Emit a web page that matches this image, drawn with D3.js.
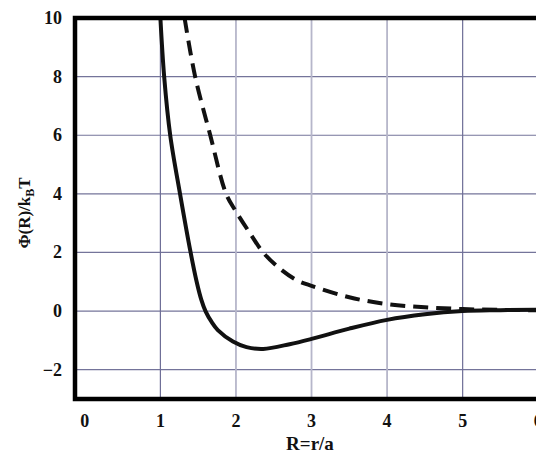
<!DOCTYPE html>
<html>
<head>
<meta charset="utf-8">
<script src="https://cdn.jsdelivr.net/npm/d3@7"></script>
<style>
  body { margin: 0; background: #fff; }
  text { font-family: "Liberation Serif", "Times New Roman", serif; font-weight: bold; fill: #111; }
</style>
</head>
<body>
<div id="chart"></div>
<script>
// potential curves
var solidR   = [1.0, 1.05, 1.13, 1.26, 1.40, 1.48, 1.54, 1.60, 1.68, 1.76, 1.96, 2.14, 2.36, 2.71, 3.0, 3.5, 4.0, 4.5, 5.0, 5.5, 6.0, 6.5];
var solidPhi = [10, 8, 6, 4, 2, 1.0, 0.4, -0.02, -0.38, -0.65, -1.04, -1.23, -1.29, -1.13, -0.95, -0.6, -0.3, -0.11, 0.0, 0.03, 0.05, 0.05];
var dashR    = [1.32, 1.46, 1.66, 1.87, 2.0, 2.2, 2.36, 2.58, 2.8, 3.0, 3.5, 4.0, 4.5, 5.0, 5.5, 6.0, 6.5];
var dashPhi  = [10, 8, 6, 4, 3.4, 2.6, 2.0, 1.45, 1.06, 0.86, 0.47, 0.24, 0.13, 0.07, 0.04, 0.03, 0.03];
var xTicks = [0, 1, 2, 3, 4, 5, 6];
var yTicks = [-2, 0, 2, 4, 6, 8, 10];
var lightX = [2, 3, 4];   // vertical grid lines that print paler

var W = 536, H = 455;
var svg = d3.select("#chart").append("svg")
    .attr("width", W)
    .attr("height", H);

var x = d3.scaleLinear().domain([-0.13, 6.5]).range([75, 576]);
var y = d3.scaleLinear().domain([-3, 10]).range([399, 18]);

svg.append("defs").append("clipPath").attr("id", "clip")
  .append("rect")
    .attr("x", 75).attr("y", 18)
    .attr("width", 576 - 75).attr("height", 399 - 18);

// grid
svg.append("g").selectAll("line")
    .data(yTicks.filter((d) => d < 10))
    .enter().append("line")
    .attr("x1", 75).attr("x2", 576)
    .attr("y1", (d) => y(d)).attr("y2", (d) => y(d))
    .attr("stroke", "#74749a").attr("stroke-width", 1.2);
svg.append("g").selectAll("line")
    .data(xTicks.filter((d) => d > 0))
    .enter().append("line")
    .attr("x1", (d) => x(d)).attr("x2", (d) => x(d))
    .attr("y1", 18).attr("y2", 399)
    .attr("stroke", (d) => lightX.includes(d) ? "#b6b6ca" : "#6e6e96")
    .attr("stroke-width", (d) => lightX.includes(d) ? 1.8 : 1.2);

var line = d3.line()
    .x((d) => x(d[0]))
    .y((d) => y(d[1]))
    .curve(d3.curveCatmullRom.alpha(0.5));

var curves = svg.append("g").attr("clip-path", "url(#clip)");
curves.append("path")
    .datum(d3.zip(dashR, dashPhi))
    .attr("d", line)
    .attr("fill", "none")
    .attr("stroke", "#111")
    .attr("stroke-width", 4)
    .attr("stroke-dasharray", "15,8");
curves.append("path")
    .datum(d3.zip(solidR, solidPhi))
    .attr("d", line)
    .attr("fill", "none")
    .attr("stroke", "#111")
    .attr("stroke-width", 4);

// frame
svg.append("rect")
    .attr("x", 75).attr("y", 18)
    .attr("width", 576 - 75).attr("height", 399 - 18)
    .attr("fill", "none")
    .attr("stroke", "#000")
    .attr("stroke-width", 4.5);

// tick labels
svg.append("g").selectAll("text")
    .data(xTicks)
    .enter().append("text")
    .attr("x", (d) => x(d))
    .attr("y", 427)
    .attr("text-anchor", "middle")
    .attr("font-size", 18)
    .text((d) => d);
svg.append("g").selectAll("text")
    .data(yTicks)
    .enter().append("text")
    .attr("x", 62)
    .attr("y", (d) => y(d) + 6)
    .attr("text-anchor", "end")
    .attr("font-size", 18)
    .text((d) => d < 0 ? "\u2212" + (-d) : d);

// axis titles
svg.append("text")
    .attr("x", 310).attr("y", 450)
    .attr("text-anchor", "middle")
    .attr("font-size", 19)
    .text("R=r/a");

var yl = svg.append("text")
    .attr("transform", "translate(30,213) rotate(-90)")
    .attr("text-anchor", "middle")
    .attr("font-size", 17);
yl.append("tspan").text("\u03A6(R)/k");
yl.append("tspan").attr("font-size", 12).attr("dy", 4).text("B");
yl.append("tspan").attr("dy", -4).text("T");
</script>
</body>
</html>
